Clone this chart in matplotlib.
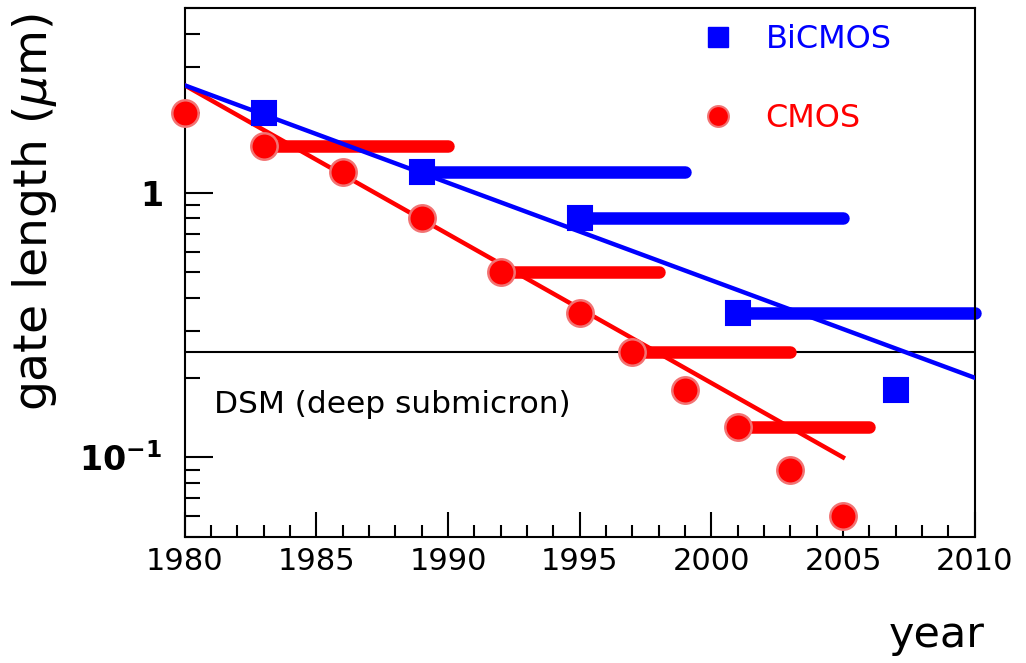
import matplotlib
matplotlib.use("Agg")
import matplotlib.pyplot as plt
from matplotlib.lines import Line2D
from matplotlib.ticker import MultipleLocator, LogLocator, NullFormatter

# CMOS gate length per year (points)
cmos_years = [1980, 1983, 1986, 1989, 1992, 1995, 1997, 1999, 2001, 2003, 2005]
cmos_vals = [2.0, 1.5, 1.2, 0.8, 0.5, 0.35, 0.25, 0.18, 0.13, 0.09, 0.06]

# BiCMOS gate length per year (points)
bicmos_years = [1983, 1989, 1995, 2001, 2007]
bicmos_vals = [2.0, 1.2, 0.8, 0.35, 0.18]

# period a node stays in use (thick bars)
cmos_node = [1.5, 0.5, 0.25, 0.13]
cmos_from = [1983, 1992, 1997, 2001]
cmos_to = [1990, 1998, 2003, 2006]

bicmos_node = [1.2, 0.8, 0.35]
bicmos_from = [1989, 1995, 2001]
bicmos_to = [1999, 2005, 2010]

# trend lines (end points)
cmos_fit_years = [1980, 2005]
cmos_fit_vals = [2.55, 0.10]
bicmos_fit_years = [1980, 2010]
bicmos_fit_vals = [2.55, 0.20]

dsm_limit = 0.25

red = (1, 0, 0)
blue = (0, 0, 1)

fig = plt.figure(figsize=(10.26, 6.63), dpi=100)
ax = fig.add_axes([0.180, 0.190, 0.770, 0.798])

# bars
for v, a, b in zip(cmos_node, cmos_from, cmos_to):
    ax.plot([a, b], [v, v], color=red, lw=9, solid_capstyle='round', zorder=2, clip_on=False)
for v, a, b in zip(bicmos_node, bicmos_from, bicmos_to):
    ax.plot([a, b], [v, v], color=blue, lw=9, solid_capstyle='round', zorder=2, clip_on=False)

# trends
ax.plot(cmos_fit_years, cmos_fit_vals, color=red, lw=3.2, zorder=3)
ax.plot(bicmos_fit_years, bicmos_fit_vals, color=blue, lw=3.2, zorder=3)

# DSM line
ax.axhline(dsm_limit, color='k', lw=1.5, zorder=1)
ax.text(1981.1, 0.158, 'DSM (deep submicron)', fontsize=22.5, va='center', ha='left')

# points
ax.plot(cmos_years, cmos_vals, ls='none', marker='o', ms=19, mfc=red,
        mec=(0.95, 0.45, 0.45), mew=1.8, zorder=4, clip_on=False)
ax.plot(bicmos_years, bicmos_vals, ls='none', marker='s', ms=17, mfc=blue,
        mec=blue, mew=1.5, zorder=4, clip_on=False)

ax.set_yscale('log')
ax.set_xlim(1980, 2010)
ax.set_ylim(0.05, 5)

ax.set_xticks(range(1980, 2011, 5))
ax.xaxis.set_minor_locator(MultipleLocator(1))
ax.set_yticks([0.1, 1])
ax.set_yticklabels([r'$\mathbf{10^{-1}}$', r'$\mathbf{1}$'])
ax.yaxis.set_minor_locator(LogLocator(base=10, subs=range(2, 10)))
ax.yaxis.set_minor_formatter(NullFormatter())

ax.tick_params(which='both', direction='in', top=False, right=False, width=1.5)
ax.tick_params(axis='x', which='major', length=18, pad=7, labelsize=22)
ax.tick_params(axis='x', which='minor', length=9)
ax.tick_params(axis='y', which='major', length=20, pad=16, labelsize=24)
ax.tick_params(axis='y', which='minor', length=11)
for s in ax.spines.values():
    s.set_linewidth(1.5)

fig.text(0.034, 0.98, r'gate length ($\mu$m)', rotation=90, fontsize=34,
         ha='center', va='top')
fig.text(0.96, 0.024, 'year', fontsize=31, ha='right', va='baseline')

handles = [
    Line2D([], [], ls='none', marker='s', ms=14, mfc=blue, mec=blue),
    Line2D([], [], ls='none', marker='o', ms=15, mfc=red, mec=(0.95, 0.45, 0.45), mew=1.5),
]
ax.legend(handles, ['BiCMOS', 'CMOS'], loc='upper left', bbox_to_anchor=(0.618, 1.024),
          frameon=False, fontsize=23, labelspacing=1.5, handlelength=1.0,
          handletextpad=1.0, labelcolor=[blue, red])

fig.savefig('out.png', dpi=100)
